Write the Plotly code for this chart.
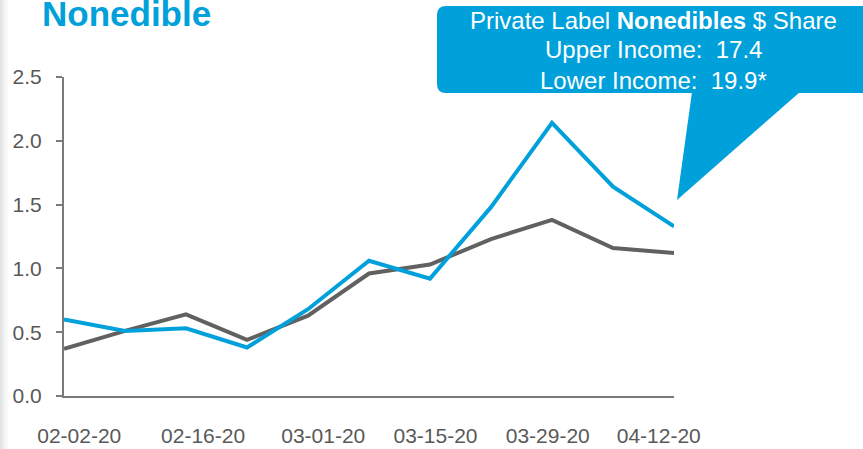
import plotly.graph_objects as go

# ---- data ----
weeks = ["02-02-20", "02-09-20", "02-16-20", "02-23-20", "03-01-20", "03-08-20",
         "03-15-20", "03-22-20", "03-29-20", "04-05-20", "04-12-20"]
lower_income = [0.60, 0.51, 0.53, 0.38, 0.68, 1.06, 0.92, 1.48, 2.14, 1.64, 1.33]
upper_income = [0.37, 0.51, 0.64, 0.44, 0.63, 0.96, 1.03, 1.23, 1.38, 1.16, 1.12]
tick_labels = ["02-02-20", "02-16-20", "03-01-20", "03-15-20", "03-29-20", "04-12-20"]
tick_pos = [0.25, 2.28, 4.25, 6.09, 7.93, 9.75]
y_ticks = [0.0, 0.5, 1.0, 1.5, 2.0, 2.5]

title_text = "Nonedible"
callout_lines = ["Private Label <b>Nonedibles</b> $ Share",
                 "Upper Income:  17.4",
                 "Lower Income:  19.9*"]

BLUE = "#00A1DA"
GRAY = "#616161"
FONT = "Liberation Sans, Arial, sans-serif"

W, H = 863, 449
L, R, T, B = 64, 674, 77, 396

def px(x):
    return (x - L) / (R - L)

def py(y):
    return (B - y) / (B - T)

xs = list(range(len(weeks)))

fig = go.Figure()
fig.add_trace(go.Scatter(x=xs, y=upper_income, mode="lines",
                         line=dict(color=GRAY, width=4), name="Upper Income",
                         hovertext=weeks))
fig.add_trace(go.Scatter(x=xs, y=lower_income, mode="lines",
                         line=dict(color=BLUE, width=4), name="Lower Income",
                         hovertext=weeks))

shapes = []
# left-edge soft shadow
for i, c in enumerate(["#e4e4e4", "#ececec", "#f3f3f3", "#f9f9f9"]):
    shapes.append(dict(type="rect", xref="paper", yref="paper",
                       x0=px(i * 2), x1=px(i * 2 + 2), y0=py(H + 5), y1=py(-5),
                       fillcolor=c, line=dict(width=0), layer="below"))

# callout box: rounded rect + pointer
r = 9
x0, x1, y0, y1 = 437, 880, 6, 93
path = (f"M {px(x0 + r)},{py(y0)} L {px(x1)},{py(y0)} L {px(x1)},{py(y1)} "
        f"L {px(x0 + r)},{py(y1)} Q {px(x0)},{py(y1)} {px(x0)},{py(y1 - r)} "
        f"L {px(x0)},{py(y0 + r)} Q {px(x0)},{py(y0)} {px(x0 + r)},{py(y0)} Z")
shapes.append(dict(type="path", xref="paper", yref="paper", path=path,
                   fillcolor=BLUE, line=dict(width=0)))
tri = (f"M {px(692)},{py(92)} L {px(800)},{py(92)} L {px(677)},{py(200)} Z")
shapes.append(dict(type="path", xref="paper", yref="paper", path=tri,
                   fillcolor=BLUE, line=dict(width=0)))

annotations = [
    dict(text=f"<b>{title_text}</b>", xref="paper", yref="paper",
         x=px(40), y=py(13), xanchor="left", yanchor="middle", showarrow=False,
         font=dict(family=FONT, size=35, color=BLUE)),
]
for line, yc in zip(callout_lines, [21, 50, 80]):
    annotations.append(dict(text=line, xref="paper", yref="paper",
                            x=px(653), y=py(yc), xanchor="center", yanchor="middle",
                            showarrow=False,
                            font=dict(family=FONT, size=24, color="white")))

fig.update_layout(
    width=W, height=H,
    margin=dict(l=L, r=W - R, t=T, b=H - B, autoexpand=False),
    paper_bgcolor="white", plot_bgcolor="white",
    showlegend=False,
    shapes=shapes, annotations=annotations,
    font=dict(family=FONT, size=21, color="#595959"),
    xaxis=dict(range=[0, len(weeks) - 1], showgrid=False, zeroline=False,
               showline=True, linecolor="#7a7a7a", linewidth=2,
               tickmode="array", tickvals=tick_pos, ticktext=tick_labels,
               ticks="", ticklabelstandoff=20, automargin=False,
               tickfont=dict(family=FONT, size=21, color="#595959")),
    yaxis=dict(range=[0, 2.5], showgrid=False, zeroline=False,
               showline=True, linecolor="#7a7a7a", linewidth=2,
               tickmode="array", tickvals=y_ticks, tickformat=".1f",
               ticks="outside", ticklen=6, tickwidth=2, tickcolor="#7a7a7a",
               ticklabelstandoff=10, automargin=False,
               tickfont=dict(family=FONT, size=21, color="#595959")),
)

fig.write_html("out.html")
